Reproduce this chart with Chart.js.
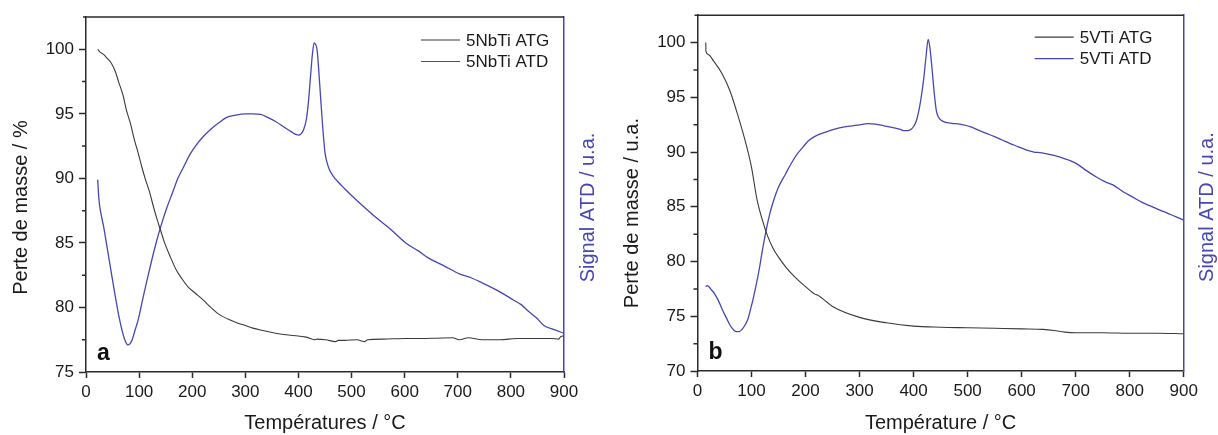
<!DOCTYPE html>
<html>
<head>
<meta charset="utf-8">
<script src="https://cdn.jsdelivr.net/npm/chart.js@4.4.1/dist/chart.umd.min.js"></script>
<style>
  html, body { margin: 0; padding: 0; background: #ffffff; }
  #wrap { position: relative; width: 1218px; height: 435px; overflow: hidden; background: #fff; }
  .panel { position: absolute; top: 0; width: 609px; height: 435px; }
  #pa { left: 0; }
  #pb { left: 609px; }
</style>
</head>
<body>
<div id="wrap">
  <div class="panel" id="pa"><canvas id="ca" width="609" height="435"></canvas></div>
  <div class="panel" id="pb"><canvas id="cb" width="609" height="435"></canvas></div>
</div>
<script>
// ---------------- DATA ----------------
const xTicks = [0, 100, 200, 300, 400, 500, 600, 700, 800, 900];
const yTicksA = [75, 80, 85, 90, 95, 100];
const yMinorA = [77.5, 82.5, 87.5, 92.5, 97.5];
const yTicksB = [70, 75, 80, 85, 90, 95, 100];
const yMinorB = [72.5, 77.5, 82.5, 87.5, 92.5, 97.5];

const labelsA = ["5NbTi ATG", "5NbTi ATD"];
const labelsB = ["5VTi ATG", "5VTi ATD"];

// Panel a : 5NbTi
const atgA_T = [22, 26, 33, 40, 48, 55, 62, 70, 76, 84, 91, 98, 105, 112, 120, 127, 134, 141, 148, 159, 170, 181, 192, 206, 220, 235, 249, 267, 285, 300, 314, 335, 357, 385, 415, 430, 435, 451, 470, 475, 487, 510, 525, 530, 560, 600, 631, 660, 690, 703, 720, 746, 780, 811, 850, 876, 890, 894, 900];
const atgA_V = [100.0, 99.8, 99.6, 99.3, 98.9, 98.3, 97.4, 96.4, 95.3, 94.2, 93.0, 92.0, 90.9, 89.9, 88.9, 87.8, 86.8, 85.9, 85.0, 83.9, 82.9, 82.2, 81.6, 81.1, 80.6, 80.0, 79.5, 79.1, 78.8, 78.6, 78.4, 78.2, 78.0, 77.85, 77.7, 77.5, 77.55, 77.5, 77.35, 77.45, 77.45, 77.5, 77.35, 77.5, 77.55, 77.6, 77.6, 77.62, 77.65, 77.5, 77.65, 77.5, 77.5, 77.6, 77.6, 77.6, 77.55, 77.75, 77.8];

const atdA_T = [22, 24.5, 28, 33, 40, 48, 55, 62, 68, 73, 78.5, 83, 87, 92, 98, 105, 112, 120, 127, 134, 141, 152, 163, 173, 184, 195, 206, 220, 235, 250, 264, 282, 300, 315, 329, 343, 357, 372, 387, 395, 401, 406, 410, 415, 419, 422, 426, 429.5, 432, 435, 438, 442, 446, 450, 454, 458, 465, 473, 487, 502, 523, 545, 575, 602, 625, 646, 675, 703, 725, 746, 775, 804, 820, 833, 848, 862, 880, 900];
const atdA_V = [89.9, 88.3, 87.3, 86.3, 84.6, 82.6, 80.9, 79.3, 78.2, 77.5, 77.1, 77.2, 77.5, 78.2, 79.0, 80.3, 81.6, 83.0, 84.2, 85.3, 86.3, 87.7, 88.9, 90.0, 90.9, 91.8, 92.5, 93.2, 93.8, 94.3, 94.7, 94.9, 95.0, 95.0, 94.95, 94.7, 94.4, 94.0, 93.6, 93.4, 93.35, 93.5, 93.8, 94.6, 96.0, 97.5, 99.5, 100.5, 100.4, 100.0, 98.5, 96.1, 93.8, 92.0, 91.2, 90.7, 90.2, 89.8, 89.2, 88.6, 87.8, 87.0, 86.0, 85.0, 84.4, 83.8, 83.2, 82.6, 82.3, 81.9, 81.3, 80.6, 80.2, 79.7, 79.2, 78.6, 78.3, 78.0];

// Panel b : 5VTi
const atgB_T = [15.3, 15.6, 20, 30, 45, 60, 75, 90, 100, 110, 120, 130, 140, 150, 165, 180, 200, 218, 222, 250, 300, 350, 400, 450, 500, 550, 600, 640, 660, 680, 700, 750, 800, 850, 900];
const atgB_V = [100.0, 99.2, 98.9, 98.3, 97.2, 95.6, 93.3, 90.7, 88.6, 85.7, 83.8, 82.3, 81.2, 80.4, 79.4, 78.6, 77.7, 77.0, 76.95, 75.9, 74.9, 74.4, 74.1, 74.0, 73.95, 73.9, 73.85, 73.8, 73.7, 73.55, 73.5, 73.5, 73.45, 73.45, 73.4];

const atdB_T = [15.3, 18, 21, 26, 31, 38, 46, 53, 60, 66, 71.5, 77, 82.5, 88, 93, 98, 104, 110, 115, 120, 126, 133, 141, 150, 163, 174, 185, 196, 207, 220, 236, 254, 272, 295, 316, 330, 345, 360, 374, 383, 390, 396, 401, 406, 411, 415, 419, 423, 427, 430, 434, 438, 442, 446, 451, 460, 477, 490, 506, 520, 535, 550, 564, 578, 593, 608, 623, 634, 645, 660, 674, 688, 703, 720, 739, 754, 769, 787, 805, 823, 842, 856, 871, 885, 900];
const atdB_V = [77.7, 77.8, 77.7, 77.4, 77.1, 76.5, 75.6, 74.9, 74.2, 73.8, 73.6, 73.6, 73.8, 74.2, 74.7, 75.6, 76.8, 78.2, 79.5, 81.0, 82.6, 84.2, 85.6, 86.8, 88.0, 89.0, 89.85, 90.5, 91.1, 91.5, 91.8, 92.1, 92.3, 92.45, 92.6, 92.55, 92.4, 92.25, 92.1, 91.95, 91.95, 92.1, 92.4, 93.0, 94.1, 95.3, 96.8, 98.7, 100.3, 99.6, 97.7, 95.5, 93.8, 93.2, 92.9, 92.7, 92.6, 92.5, 92.3, 92.0, 91.7, 91.4, 91.1, 90.8, 90.5, 90.2, 90.0, 89.95, 89.85, 89.7, 89.5, 89.25, 88.9, 88.3, 87.7, 87.3, 87.0, 86.4, 85.9, 85.4, 85.0, 84.7, 84.4, 84.1, 83.8];

// ---------------- STYLE ----------------
const FONT = '"Liberation Sans", Arial, Helvetica, sans-serif';
const BLUE = '#4646b4';
const GREY = '#3a3a3a';
const AXIS = '#2a2a2a';
const TEXT = '#1a1a1a';

Chart.defaults.font.family = FONT;
Chart.defaults.color = TEXT;

function pts(T, V) { return T.map((t, i) => ({ x: t, y: V[i] })); }

const panelDecor = {
  id: 'panelDecor',
  afterDraw(chart, args, o) {
    const { ctx, chartArea: a, scales } = chart;
    ctx.save();
    // top frame line
    ctx.strokeStyle = AXIS; ctx.lineWidth = 1.5;
    ctx.beginPath(); ctx.moveTo(a.left - 3, a.top); ctx.lineTo(a.right, a.top); ctx.stroke();
    // minor y ticks
    ctx.beginPath();
    o.minor.forEach(v => {
      const p = scales.y.getPixelForValue(v);
      ctx.moveTo(a.left - 4, p); ctx.lineTo(a.left, p);
    });
    ctx.stroke();
    // left title
    ctx.font = '20px ' + FONT; ctx.fillStyle = TEXT;
    ctx.textAlign = 'center'; ctx.textBaseline = 'middle';
    ctx.save();
    ctx.translate(a.left - 65, (a.top + a.bottom) / 2 + o.yTitleShift);
    ctx.rotate(-Math.PI / 2); ctx.fillText(o.yTitle, 0, 0);
    ctx.restore();
    // right title
    ctx.fillStyle = BLUE;
    ctx.save();
    ctx.translate(a.right + 24, (a.top + a.bottom) / 2 + o.y1TitleShift);
    ctx.rotate(-Math.PI / 2); ctx.fillText(o.y1Title, 0, 0);
    ctx.restore();
    // panel letter
    ctx.font = 'bold 23px ' + FONT; ctx.fillStyle = '#111';
    ctx.textAlign = 'left'; ctx.textBaseline = 'alphabetic';
    ctx.fillText(o.letter, a.left + 11, a.bottom - 12);
    // legend
    ctx.font = '17px ' + FONT; ctx.textBaseline = 'middle';
    chart.data.datasets.forEach((ds, i) => {
      const y = a.top + o.legendTop + i * 21.5;
      const x0 = a.right - o.legendX;
      ctx.strokeStyle = ds.borderColor; ctx.lineWidth = 1.2;
      ctx.beginPath(); ctx.moveTo(x0, y); ctx.lineTo(x0 + 39, y); ctx.stroke();
      ctx.fillStyle = TEXT; ctx.fillText(ds.label, x0 + 45, y + 1);
    });
    ctx.restore();
  }
};

function makePanel(id, o) {
  return new Chart(document.getElementById(id), {
    type: 'line',
    data: {
      datasets: [
        { label: o.labels[0], data: pts(o.atgT, o.atgV), yAxisID: 'y', borderColor: GREY, borderWidth: 1.1, pointRadius: 0, cubicInterpolationMode: 'monotone', fill: false },
        { label: o.labels[1], data: pts(o.atdT, o.atdV), yAxisID: 'y1', borderColor: BLUE, borderWidth: 1.3, pointRadius: 0, cubicInterpolationMode: 'monotone', fill: false }
      ]
    },
    options: {
      responsive: false,
      animation: false,
      events: [],
      layout: { padding: { top: o.padTop, left: 0, right: 0, bottom: 0 } },
      plugins: {
        legend: { display: false },
        tooltip: { enabled: false },
        panelDecor: {
          minor: o.minor, yTitle: o.yTitle, y1Title: 'Signal ATD / u.a.',
          yTitleShift: o.yTitleShift, y1TitleShift: o.y1TitleShift,
          letter: o.letter, legendTop: o.legendTop, legendX: o.legendX
        }
      },
      scales: {
        x: {
          type: 'linear', min: 0, max: 900,
          afterBuildTicks: s => { s.ticks = xTicks.map(v => ({ value: v })); },
          afterFit: s => { s.height = o.xHeight; },
          ticks: { font: { size: 17 }, color: TEXT, padding: 4, maxRotation: 0, autoSkip: false },
          grid: { drawOnChartArea: false, drawTicks: true, tickLength: 6, tickColor: AXIS, tickWidth: 1.5 },
          border: { color: AXIS, width: 1.5 },
          title: { display: true, text: o.xTitle, font: { size: 20 }, color: TEXT, padding: { top: 0, bottom: 0 } }
        },
        y: {
          position: 'left', min: o.yMin, max: 102.5,
          afterBuildTicks: s => { s.ticks = o.yTicks.map(v => ({ value: v })); },
          afterFit: s => { s.width = o.yWidth; },
          ticks: { font: { size: 17 }, color: TEXT, padding: 5 },
          grid: { drawOnChartArea: false, drawTicks: true, tickLength: 7, tickColor: AXIS, tickWidth: 1.5 },
          border: { color: AXIS, width: 1.5 }
        },
        y1: {
          position: 'right', min: o.yMin, max: 102.5,
          afterFit: s => { s.width = o.y1Width; },
          ticks: { display: false },
          grid: { display: false, drawTicks: false },
          border: { color: BLUE, width: 1.5 }
        }
      }
    },
    plugins: [panelDecor]
  });
}

makePanel('ca', {
  labels: labelsA, atgT: atgA_T, atgV: atgA_V, atdT: atdA_T, atdV: atdA_V,
  yMin: 75, yTicks: yTicksA, minor: yMinorA,
  yTitle: 'Perte de masse / %', xTitle: 'Températures / °C', letter: 'a',
  padTop: 17, xHeight: 63, yWidth: 86, y1Width: 45,
  yTitleShift: 13, y1TitleShift: 13, legendTop: 23, legendX: 143
});

makePanel('cb', {
  labels: labelsB, atgT: atgB_T, atgV: atgB_V, atdT: atdB_T, atdV: atdB_V,
  yMin: 70, yTicks: yTicksB, minor: yMinorB,
  yTitle: 'Perte de masse / u.a.', xTitle: 'Température / °C', letter: 'b',
  padTop: 14, xHeight: 64, yWidth: 88.5, y1Width: 34.3,
  yTitleShift: 20, y1TitleShift: 14, legendTop: 22, legendX: 149
});
</script>
</body>
</html>
